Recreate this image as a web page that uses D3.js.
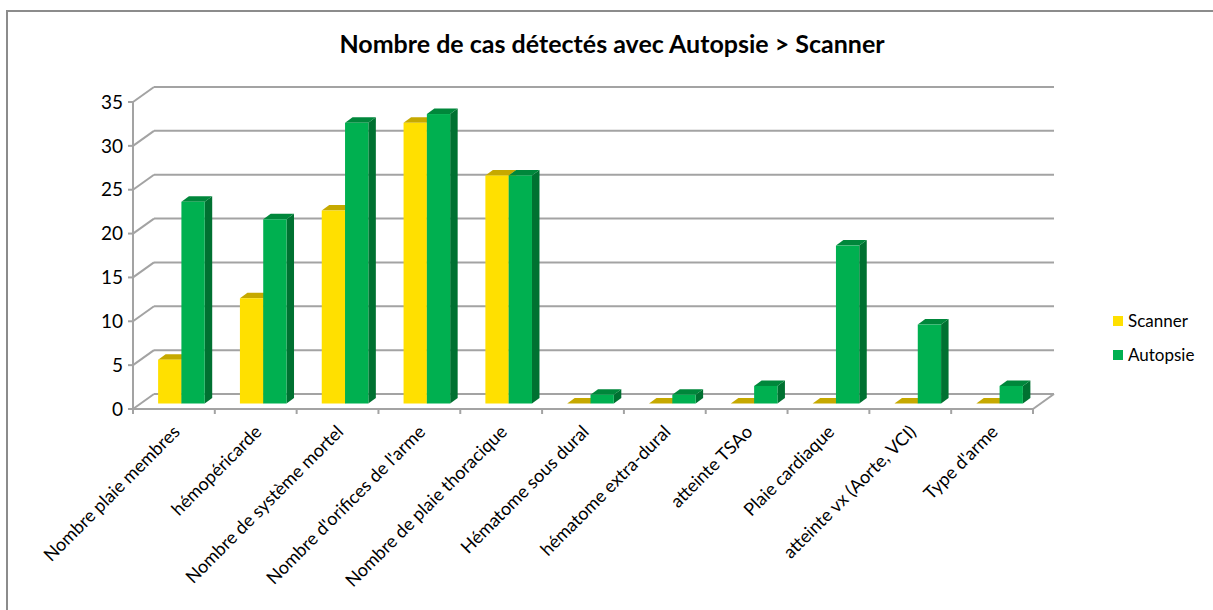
<!DOCTYPE html>
<html>
<head>
<meta charset="utf-8">
<script src="https://cdn.jsdelivr.net/npm/d3@7"></script>
<style>
  body { margin: 0; background: #fff; }
  text { font-family: Lato, "Liberation Sans", sans-serif; fill: #000; }
</style>
</head>
<body>
<div id="chart"></div>
<script>
// data
var categories = ["Nombre plaie membres", "hémopéricarde", "Nombre de système mortel",
  "Nombre d'orifices de l'arme", "Nombre de plaie thoracique", "Hématome sous dural",
  "hématome extra-dural", "atteinte TSAo", "Plaie cardiaque", "atteinte vx (Aorte, VCI)",
  "Type d'arme"];
var seriesNames = ["Scanner", "Autopsie"];
var scanner = [5, 12, 22, 32, 26, 0, 0, 0, 0, 0, 0];
var autopsie = [23, 21, 32, 33, 26, 1, 1, 2, 18, 9, 2];
var yTicks = [0, 5, 10, 15, 20, 25, 30, 35];

var svgWidth = 1213;
var svgHeight = 610;

// colours: front face, side face, top face
var colors = {
  Scanner: { front: "#ffe000", side: "#c9a800", top: "#c6a900" },
  Autopsie: { front: "#00b050", side: "#007131", top: "#00873b" }
};

// 3d offsets
var wallDx = 21, wallDy = -15;   // back wall
var barDx = 7.5, barDy = -5.5;   // front plane of the bars
var depthDx = 7.5, depthDy = -5.5; // bar depth

var svg = d3.select("#chart").append("svg")
  .attr("width", svgWidth)
  .attr("height", svgHeight);

// outer frame
svg.append("rect")
  .attr("x", 7).attr("y", 11)
  .attr("width", 1400).attr("height", 800)
  .attr("fill", "none")
  .attr("stroke", "#8c8c8c")
  .attr("stroke-width", 2);

// title
svg.append("text")
  .attr("x", 612).attr("y", 53)
  .attr("text-anchor", "middle")
  .style("font-size", "25px")
  .style("font-weight", "bold")
  .text("Nombre de cas détectés avec Autopsie > Scanner");

var x = d3.scaleBand().domain(categories).range([133, 1033]).padding(0);
var xs = d3.scaleBand().domain(seriesNames).range([-23.3, 23.3]).padding(0);
var y = d3.scaleLinear().domain([0, 35]).range([409, 102]);

var grid = svg.append("g");
var gridColor = "#a3a3a3";

// back wall gridlines + left wall diagonals
yTicks.forEach(function(t) {
  grid.append("line")
    .attr("x1", x.range()[0] + wallDx).attr("x2", x.range()[1] + wallDx)
    .attr("y1", y(t) + wallDy).attr("y2", y(t) + wallDy)
    .attr("stroke", gridColor).attr("stroke-width", 2);
  grid.append("line")
    .attr("x1", x.range()[0]).attr("x2", x.range()[0] + wallDx)
    .attr("y1", y(t)).attr("y2", y(t) + wallDy)
    .attr("stroke", gridColor).attr("stroke-width", 2);
});

// floor front edge and right diagonal
grid.append("line")
  .attr("x1", x.range()[0]).attr("x2", x.range()[1])
  .attr("y1", y(0)).attr("y2", y(0))
  .attr("stroke", gridColor).attr("stroke-width", 2);
grid.append("line")
  .attr("x1", x.range()[1]).attr("x2", x.range()[1] + wallDx)
  .attr("y1", y(0)).attr("y2", y(0) + wallDy)
  .attr("stroke", gridColor).attr("stroke-width", 2);

// y axis line and ticks
grid.append("line")
  .attr("x1", 133).attr("x2", 133)
  .attr("y1", y(35)).attr("y2", y(0))
  .attr("stroke", gridColor).attr("stroke-width", 2);
yTicks.forEach(function(t) {
  grid.append("line")
    .attr("x1", 128).attr("x2", 133)
    .attr("y1", y(t)).attr("y2", y(t))
    .attr("stroke", gridColor).attr("stroke-width", 2);
});
svg.append("g").selectAll("text")
  .data(yTicks)
  .enter()
  .append("text")
  .attr("x", 123)
  .attr("y", d => y(d))
  .attr("dy", "0.35em")
  .attr("text-anchor", "end")
  .style("font-size", "19px")
  .text(d => d);

// category ticks
var bounds = categories.map(c => x(c)).concat([x.range()[1]]);
grid.selectAll(".ctick")
  .data(bounds)
  .enter()
  .append("line")
  .attr("x1", d => d).attr("x2", d => d)
  .attr("y1", y(0)).attr("y2", y(0) + 5)
  .attr("stroke", gridColor).attr("stroke-width", 2);

// bars
var bars = [];
categories.forEach(function(c, i) {
  bars.push({ cat: c, series: "Scanner", value: scanner[i] });
  bars.push({ cat: c, series: "Autopsie", value: autopsie[i] });
});

var barG = svg.append("g");
bars.forEach(function(d) {
  var x0 = x(d.cat) + x.bandwidth() / 2 + barDx + xs(d.series);
  var x1 = x0 + xs.bandwidth();
  var yb = y(0) + barDy;
  var yt = y(d.value) + barDy;
  var col = colors[d.series];
  var g = barG.append("g");
  // side
  g.append("polygon")
    .attr("points", [[x1, yb], [x1 + depthDx, yb + depthDy], [x1 + depthDx, yt + depthDy], [x1, yt]].join(" "))
    .attr("fill", col.side);
  // top
  g.append("polygon")
    .attr("points", [[x0, yt], [x0 + depthDx, yt + depthDy], [x1 + depthDx, yt + depthDy], [x1, yt]].join(" "))
    .attr("fill", col.top);
  // front
  g.append("rect")
    .attr("x", x0).attr("y", yt)
    .attr("width", xs.bandwidth())
    .attr("height", yb - yt)
    .attr("fill", col.front);
});

// category labels
svg.append("g").selectAll("text")
  .data(categories)
  .enter()
  .append("text")
  .attr("text-anchor", "end")
  .attr("transform", d => `translate(${x(d) + x.bandwidth() / 2 + 7}, 433) rotate(-45)`)
  .style("font-size", "18px")
  .text(d => d);

// legend
var legend = svg.append("g");
seriesNames.forEach(function(s, i) {
  legend.append("rect")
    .attr("x", 1113).attr("y", 316 + i * 34)
    .attr("width", 10).attr("height", 10)
    .attr("fill", colors[s].front);
  legend.append("text")
    .attr("x", 1128).attr("y", 321 + i * 34)
    .attr("dy", "0.35em")
    .style("font-size", "17px")
    .text(s);
});
</script>
</body>
</html>
